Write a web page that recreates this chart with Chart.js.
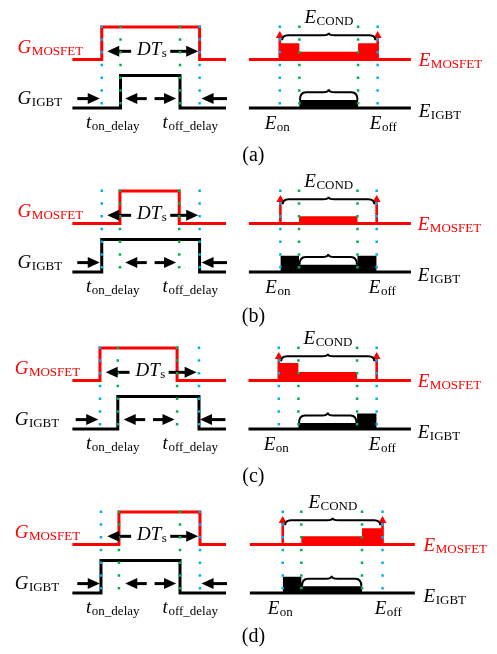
<!DOCTYPE html>
<html>
<head>
<meta charset="utf-8">
<script src="https://cdn.jsdelivr.net/npm/chart.js@4.4.0/dist/chart.umd.min.js"></script>
<style>
  html, body { margin: 0; padding: 0; background: #fff; }
  #wrap { position: relative; width: 497px; height: 654px; overflow: hidden; }
  #wrap canvas { position: absolute; left: 0; }
</style>
</head>
<body>
<div id="wrap"></div>
<script>
  // ---- data (time unit ~ one dead time, level unit ~ half a gate swing) ----
  const panelNames = ['(a)', '(b)', '(c)', '(d)'];

  // gate signals: [turn-on, turn-off] time
  const gateMosfet = [[0, 5], [0.93, 3.96], [-0.09, 3.85], [0.88, 5.02]];
  const gateIgbt = [[0.96, 4.0], [0, 5], [0.82, 4.97], [-0.04, 4.0]];
  const gateLow = { mosfet: 3, igbt: 0 };
  const gateHigh = { mosfet: 5, igbt: 2 };
  const gateSpan = [-1.5, 6.35];

  // energy diagrams: interval edges and block height per interval [turn-on, conduction, turn-off]
  const energyEdges = [[0, 1, 4, 5], [0.03, 0.98, 3.97, 4.95], [-0.05, 0.95, 3.95, 4.95], [0.15, 1.1, 4.2, 5.25]];
  const energyMosfet = [[1.0, 0.47, 1.0], [0, 0.45, 0], [1.07, 0.52, 0], [0, 0.5, 1.0]];
  const energyIgbt = [[0, 0.5, 0], [1.0, 0.45, 1.0], [0, 0.37, 0.95], [1.0, 0.41, 0]];
  const energyBase = { mosfet: 3, igbt: 0 };
  const energySpan = [[-1.58, 6.7], [-1.58, 6.7], [-1.6, 6.7], [-1.53, 6.9]];

  // arrows: [tail, end] times
  const arrowsDeadTime = [[1.5, 0.46], [3.5, 4.75]];
  const arrowsDelay = [[-1.25, -0.28], [2.3, 1.38], [2.7, 3.62], [6.4, 5.28]];
  const arrowLevel = { deadTime: 3.5, delay: 0.58 };
  const pulseArrow = [3, 4.6];
  const leftShift = [0, 0, -0.08, 0];
  const dotSpan = [5.1, 0.21];

  // ---- layout / style ----
  const RED = '#ff0000', BLACK = '#000000', BLUE = '#00b0f0', GREEN = '#00b050';
  const MAIN_FONT = 'italic 19px "Liberation Serif"';
  const SUB_FONT = '13px "Liberation Serif"';
  const PLAIN_FONT = '20px "Liberation Serif"';
  const panelTop = [0, 164, 321, 485];
  const panelLabelY = [-3.27, -3.09, -3.27, -3.02];
  const gLabelX = [-4.3, -4.3, -4.45, -4.45];
  const W = 497, H = 170;

  function line(pts, axis, color, width, order, extra) {
    return Object.assign({
      data: pts, xAxisID: axis, yAxisID: 'y',
      borderColor: color, borderWidth: width, order: order, fill: false
    }, extra || {});
  }

  function gateWave(edges, low, high, shift) {
    const on = edges[0] + shift, off = edges[1] + shift;
    return [
      { x: gateSpan[0], y: low }, { x: on, y: low }, { x: on, y: high },
      { x: off, y: high }, { x: off, y: low }, { x: gateSpan[1], y: low }
    ];
  }

  function energyBlock(edges, h, base) {
    const pts = [{ x: edges[0], y: base }];
    for (let i = 0; i < 3; i++) {
      pts.push({ x: edges[i], y: base + h[i] }, { x: edges[i + 1], y: base + h[i] });
    }
    pts.push({ x: edges[3], y: base });
    return pts;
  }

  function dotted(x, axis, color) {
    return line([{ x: x, y: dotSpan[0] }, { x: x, y: dotSpan[1] }], axis, color, 2.5, 0,
      { borderDash: [2.5, 10.27], borderCapStyle: 'butt' });
  }

  function buildDatasets(p) {
    const ds = [];
    const s = leftShift[p];
    // gate side
    ds.push(line(gateWave(gateMosfet[p], gateLow.mosfet, gateHigh.mosfet, 0), 'xl', RED, 3, 2));
    ds.push(line(gateWave(gateIgbt[p], gateLow.igbt, gateHigh.igbt, 0), 'xl', BLACK, 3, 2));
    const gEdges = gateMosfet[p].concat(gateIgbt[p]).sort((a, b) => a - b);
    gEdges.forEach((e, i) => ds.push(dotted(e, 'xl', (i === 0 || i === 3) ? BLUE : GREEN)));
    arrowsDeadTime.forEach(a => ds.push(line([{ x: a[0] + s, y: arrowLevel.deadTime }, { x: a[1] + s, y: arrowLevel.deadTime }],
      'xl', BLACK, 3, 1, { arrowHead: { len: 12, half: 5.5, ext: 3.5 } })));
    arrowsDelay.forEach(a => ds.push(line([{ x: a[0] + s, y: arrowLevel.delay }, { x: a[1] + s, y: arrowLevel.delay }],
      'xl', BLACK, 3, 1, { arrowHead: { len: 12, half: 5.5, ext: 3.5 } })));

    // energy side
    const e = energyEdges[p], span = energySpan[p];
    ds.push(line(energyBlock(e, energyMosfet[p], energyBase.mosfet), 'xr', 'rgba(0,0,0,0)', 1, 3,
      { fill: { value: energyBase.mosfet }, backgroundColor: RED }));
    ds.push(line(energyBlock(e, energyIgbt[p], energyBase.igbt), 'xr', 'rgba(0,0,0,0)', 1, 3,
      { fill: { value: energyBase.igbt }, backgroundColor: BLACK }));
    ds.push(line([{ x: span[0], y: energyBase.mosfet }, { x: span[1], y: energyBase.mosfet }], 'xr', RED, 3, 2));
    ds.push(line([{ x: span[0], y: energyBase.igbt }, { x: span[1], y: energyBase.igbt }], 'xr', BLACK, 3, 2));
    e.forEach((v, i) => ds.push(dotted(v, 'xr', (i === 0 || i === 3) ? BLUE : GREEN)));
    [e[0], e[3]].forEach(v => ds.push(line([{ x: v, y: pulseArrow[0] }, { x: v, y: pulseArrow[1] }],
      'xr', RED, 2.6, 1, { arrowHead: { len: 7, half: 4, ext: 2.5 } })));
    return ds;
  }

  function drawSubText(ctx, x, y, main, sub, color, align) {
    ctx.save();
    ctx.fillStyle = color;
    ctx.textBaseline = 'alphabetic';
    ctx.textAlign = 'left';
    ctx.font = MAIN_FONT;
    const w1 = ctx.measureText(main).width;
    ctx.font = SUB_FONT;
    const w2 = ctx.measureText(sub).width;
    const x0 = align === 'center' ? x - (w1 + w2) / 2 : x;
    ctx.font = MAIN_FONT;
    ctx.fillText(main, x0, y);
    ctx.font = SUB_FONT;
    ctx.fillText(sub, x0 + w1 + 0.5, y + 2);
    ctx.restore();
  }

  function drawBrace(ctx, x1, x2, y, hook, cusp) {
    const xm = (x1 + x2) / 2, r = Math.min(6, (x2 - x1) / 6);
    ctx.beginPath();
    ctx.moveTo(x1, y + hook);
    ctx.quadraticCurveTo(x1, y, x1 + r, y);
    ctx.lineTo(xm - r, y);
    ctx.quadraticCurveTo(xm, y, xm, y - cusp);
    ctx.quadraticCurveTo(xm, y, xm + r, y);
    ctx.lineTo(x2 - r, y);
    ctx.quadraticCurveTo(x2, y, x2, y + hook);
    ctx.stroke();
  }

  function overlayPlugin(p) {
    return {
      id: 'overlay' + p,
      afterDatasetsDraw(chart) {
        const ctx = chart.ctx;
        const xl = chart.scales.xl, xr = chart.scales.xr, y = chart.scales.y;

        // arrowheads at the end of arrow datasets
        chart.data.datasets.forEach((d, i) => {
          if (!d.arrowHead) return;
          const pts = chart.getDatasetMeta(i).data;
          const a = pts[pts.length - 2], b = pts[pts.length - 1];
          const dx = b.x - a.x, dy = b.y - a.y, L = Math.hypot(dx, dy);
          const ux = dx / L, uy = dy / L;
          const h = d.arrowHead;
          const tx = b.x + ux * h.ext, ty = b.y + uy * h.ext;
          const bx = tx - ux * h.len, by = ty - uy * h.len;
          ctx.save();
          ctx.fillStyle = d.borderColor;
          ctx.beginPath();
          ctx.moveTo(tx, ty);
          ctx.lineTo(bx - uy * h.half, by + ux * h.half);
          ctx.lineTo(bx + uy * h.half, by - ux * h.half);
          ctx.closePath();
          ctx.fill();
          ctx.restore();
        });

        // braces over the conduction energy
        const e = energyEdges[p];
        ctx.save();
        ctx.strokeStyle = BLACK;
        ctx.lineWidth = 2;
        drawBrace(ctx, xr.getPixelForValue(e[0] + 0.12), xr.getPixelForValue(e[3] - 0.12),
          y.getPixelForValue(energyBase.mosfet + 1.5), 5, 2.5);
        const topIgbt = energyBase.igbt + energyIgbt[p][1];
        drawBrace(ctx, xr.getPixelForValue(e[1] + 0.03), xr.getPixelForValue(e[2] - 0.03),
          y.getPixelForValue(topIgbt + 0.47), y.getPixelForValue(topIgbt) - y.getPixelForValue(topIgbt + 0.47), 3);
        ctx.restore();

        // texts
        const gx = gLabelX[p];
        drawSubText(ctx, xl.getPixelForValue(gx), y.getPixelForValue(3.38), 'G', 'MOSFET', RED, 'left');
        drawSubText(ctx, xl.getPixelForValue(gx), y.getPixelForValue(0.27), 'G', 'IGBT', BLACK, 'left');
        drawSubText(ctx, xl.getPixelForValue(2.55 + leftShift[p]), y.getPixelForValue(3.27), 'DT', 's', BLACK, 'center');
        drawSubText(ctx, xl.getPixelForValue(-0.8), y.getPixelForValue(-1.22), 't', 'on_delay', BLACK, 'left');
        drawSubText(ctx, xl.getPixelForValue(3.11), y.getPixelForValue(-1.22), 't', 'off_delay', BLACK, 'left');

        drawSubText(ctx, xr.getPixelForValue((e[0] + e[3]) / 2), y.getPixelForValue(5.23), 'E', 'COND', BLACK, 'center');
        drawSubText(ctx, xr.getPixelForValue(e[3] + 2.1), y.getPixelForValue(energyBase.mosfet - 0.4), 'E', 'MOSFET', RED, 'left');
        drawSubText(ctx, xr.getPixelForValue(e[3] + 2.1), y.getPixelForValue(energyBase.igbt - 0.55), 'E', 'IGBT', BLACK, 'left');
        drawSubText(ctx, xr.getPixelForValue(e[0] - 0.77), y.getPixelForValue(-1.3), 'E', 'on', BLACK, 'left');
        drawSubText(ctx, xr.getPixelForValue(e[3] - 0.4), y.getPixelForValue(-1.3), 'E', 'off', BLACK, 'left');

        ctx.save();
        ctx.font = PLAIN_FONT;
        ctx.fillStyle = BLACK;
        ctx.textAlign = 'center';
        ctx.fillText(panelNames[p], xr.getPixelForValue(-1.35), y.getPixelForValue(panelLabelY[p]));
        ctx.restore();
      }
    };
  }

  const wrap = document.getElementById('wrap');
  panelNames.forEach((name, p) => {
    const canvas = document.createElement('canvas');
    canvas.width = W;
    canvas.height = H;
    canvas.style.top = panelTop[p] + 'px';
    canvas.style.width = W + 'px';
    canvas.style.height = H + 'px';
    wrap.appendChild(canvas);

    new Chart(canvas.getContext('2d'), {
      type: 'line',
      data: { datasets: buildDatasets(p) },
      options: {
        responsive: false,
        devicePixelRatio: 1,
        animation: false,
        events: [],
        layout: { padding: 0 },
        elements: {
          point: { radius: 0, hoverRadius: 0 },
          line: { tension: 0, borderCapStyle: 'butt', borderJoinStyle: 'miter' }
        },
        plugins: { legend: { display: false }, tooltip: { enabled: false } },
        scales: {
          xl: { type: 'linear', axis: 'x', display: false, min: -5.2, max: 20.2 },
          xr: { type: 'linear', axis: 'x', display: false, min: -14.3, max: 11.1 },
          y: { type: 'linear', display: false, min: -3.83, max: 6.67 }
        }
      },
      plugins: [overlayPlugin(p)]
    });
  });
</script>
</body>
</html>
